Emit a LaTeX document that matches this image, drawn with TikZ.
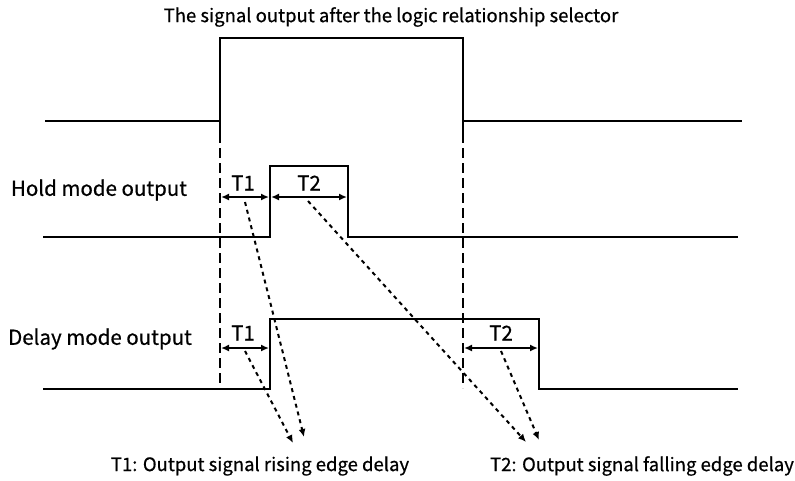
\documentclass[tikz,border=0pt]{standalone}
\usepackage{fontspec}
\setmainfont{Noto Sans CJK SC}[FakeBold=0.6]
\usetikzlibrary{arrows.meta}

\begin{document}
\begin{tikzpicture}[x=1pt, y=-1pt,
    wave/.style={line width=2.3pt, line join=miter},
    guide/.style={line width=2pt, dash pattern=on 10pt off 5pt},
    span/.style={line width=2pt, {Latex[length=8pt,width=7pt]}-{Latex[length=8pt,width=7pt]}, shorten <=1pt, shorten >=1pt},
    pointer/.style={line width=2pt, dash pattern=on 4pt off 4pt, -{Latex[length=8pt,width=7pt]}},
    lbl/.style={inner sep=0pt, font=\fontsize{20.5}{22}\selectfont},
    note/.style={inner sep=0pt, font=\fontsize{18.5}{20}\selectfont}]
    \useasboundingbox (0,0) rectangle (795,480);

    % Nodes
    \node (title) [note] at (391,17) {The signal output after the logic relationship selector};
    \node (hold) [lbl] at (99,190) {Hold mode output};
    \node (delay) [lbl] at (100,339) {Delay mode output};
    \node (t1h) [lbl] at (243,183) {T1};
    \node (t2h) [lbl] at (309,183) {T2};
    \node (t1d) [lbl] at (243,333) {T1};
    \node (t2d) [lbl] at (501,333) {T2};
    \node (note1) [note] at (260,466) {T1: Output signal rising edge delay};
    \node (note2) [note] at (642,466) {T2: Output signal falling edge delay};

    % Coordinates
    \coordinate (up) at (220,38);
    \coordinate (down) at (463,38);
    \coordinate (hup) at (270,166);
    \coordinate (hdown) at (348,166);
    \coordinate (dup) at (270,319);
    \coordinate (ddown) at (539,319);

    % Waveforms
    \draw[wave] (45,121) -- (220,121) -- (up) -- (down) -- (463,121) -- (742,121);
    \draw[wave] (up) -- (220,133);
    \draw[wave] (down) -- (463,133);
    \draw[wave] (43,237) -- (270,237) -- (hup) -- (hdown) -- (348,237) -- (738,237);
    \draw[wave] (43,389) -- (270,389) -- (dup) -- (ddown) -- (539,389) -- (738,389);

    % Guides
    \draw[guide] (220,133) -- (220,388);
    \draw[guide] (463,133) -- (463,388);

    % Spans
    \coordinate (a1) at (220,197);
    \coordinate (a2) at (270,197);
    \coordinate (a3) at (348,197);
    \coordinate (b1) at (220,348);
    \coordinate (b2) at (270,348);
    \coordinate (b3) at (463,348);
    \coordinate (b4) at (539,348);
    \draw[span] (a1) -- (a2);
    \draw[span] (a2) -- (a3);
    \draw[span] (b1) -- (b2);
    \draw[span] (b3) -- (b4);

    % Pointers
    \coordinate (p1) at (304,437);
    \coordinate (p2) at (293,443);
    \coordinate (p3) at (526,442);
    \coordinate (p4) at (539,440);
    \draw[pointer] (245,202) -- (p1);
    \draw[pointer] (245,351) -- (p2);
    \draw[pointer] (308,201) -- (p3);
    \draw[pointer] (501,351) -- (p4);
\end{tikzpicture}
\end{document}
